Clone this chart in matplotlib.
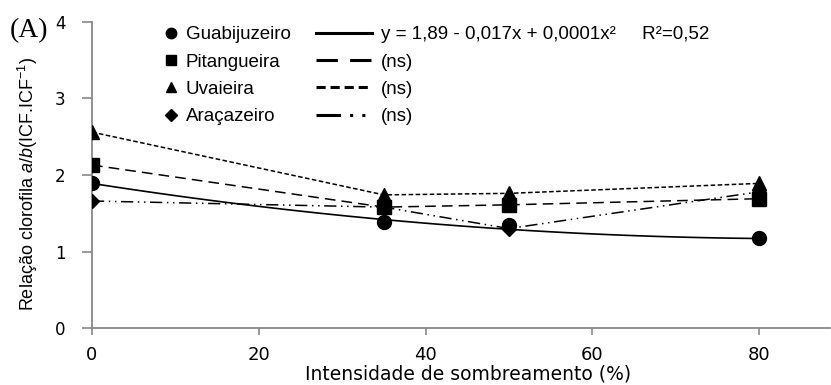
import matplotlib.pyplot as plt
from matplotlib.lines import Line2D
import numpy as np

plt.rcParams['font.family'] = ['Liberation Sans', 'DejaVu Sans']
plt.rcParams['mathtext.fontset'] = 'custom'
plt.rcParams['mathtext.rm'] = 'Liberation Sans'
plt.rcParams['mathtext.it'] = 'Liberation Sans:italic'

# sombreamento (%)
shade = [0, 35, 50, 80]

# relação clorofila a/b
guabijuzeiro = [1.89, 1.38, 1.34, 1.18]
pitangueira = [2.13, 1.58, 1.61, 1.69]
uvaieira = [2.56, 1.74, 1.76, 1.89]
aracazeiro = [1.66, 1.58, 1.30, 1.78]

# y = 1,89 - 0,017x + 0,0001x²
trend_coef = [0.0001, -0.017, 1.89]

names = ["Guabijuzeiro", "Pitangueira", "Uvaieira", "Araçazeiro"]
eq_labels = ["y = 1,89 - 0,017x + 0,0001x²     R²=0,52", "(ns)", "(ns)", "(ns)"]

markers = ["o", "s", "^", "D"]
msizes = [10, 9.5, 10.5, 7.5]
styles = ["-", (0, (7, 4)), (0, (3, 1.6)), (0, (8, 3, 1, 3, 1, 3))]
grey = "#898989"

fig = plt.figure(figsize=(8.31, 3.85), dpi=100)
ax = fig.add_axes([0.1107, 0.148, 0.888, 0.795])

# tendencia guabijuzeiro
xs = np.linspace(shade[0], shade[-1], 100)
ax.plot(xs, np.polyval(trend_coef, xs), color="black", lw=1.2, zorder=2)

series = [guabijuzeiro, pitangueira, uvaieira, aracazeiro]
for i, vals in enumerate(series):
    ls = "none" if i == 0 else styles[i]
    ax.plot(shade, vals, linestyle=ls, color="black", lw=1.1,
            marker=markers[i], ms=msizes[i], mfc="black", mec="black", zorder=3)

ax.set_xlim(0, 88.5)
ax.set_ylim(0, 4)
ax.set_xticks([0, 20, 40, 60, 80])
ax.set_yticks([0, 1, 2, 3, 4])
for s in ["top", "right"]:
    ax.spines[s].set_visible(False)
for s in ["left", "bottom"]:
    ax.spines[s].set_color(grey)
    ax.spines[s].set_linewidth(1.3)
ax.tick_params(axis="y", direction="out", length=7, width=1.2, color=grey,
               pad=12, labelsize=12, labelfontfamily="DejaVu Sans")
ax.tick_params(axis="x", direction="out", length=5, width=1.2, color=grey,
               pad=8, labelsize=13, labelfontfamily="DejaVu Sans")

ax.set_xlabel("Intensidade de sombreamento (%)", fontsize=13.5,
              family="DejaVu Sans", va="bottom")
ax.xaxis.set_label_coords(0.51, -0.182)
ax.set_ylabel("Relação clorofila $\\it{a/b}$(ICF.ICF$^{-1}$)", fontsize=13)
ax.yaxis.set_label_coords(-0.07, 0.47)

fig.text(0.012, 1 - 31 / 385, "(A)", family="Liberation Serif", fontsize=20,
         ha="left", va="center")

# legenda: marcadores
mk_handles = [Line2D([], [], ls="none", marker=markers[i], ms=msizes[i] * 0.75,
                     color="black") for i in range(4)]
leg1 = ax.legend(mk_handles, names, loc="upper left", frameon=False,
                 bbox_to_anchor=(164 / 831, 1 - 26 / 385),
                 bbox_transform=fig.transFigure, fontsize=13.5,
                 handlelength=0.7, handletextpad=0.45, labelspacing=0.55,
                 borderpad=0, borderaxespad=0)
ax.add_artist(leg1)

# legenda: linhas
ln_handles = [Line2D([], [], ls=styles[i], lw=2.2, color="black") for i in range(4)]
ax.legend(ln_handles, eq_labels, loc="upper left", frameon=False,
          bbox_to_anchor=(316 / 831, 1 - 26 / 385),
          bbox_transform=fig.transFigure, fontsize=13.5,
          handlelength=3.0, handletextpad=0.45, labelspacing=0.55,
          borderpad=0, borderaxespad=0)

fig.savefig("out.png", dpi=100)
